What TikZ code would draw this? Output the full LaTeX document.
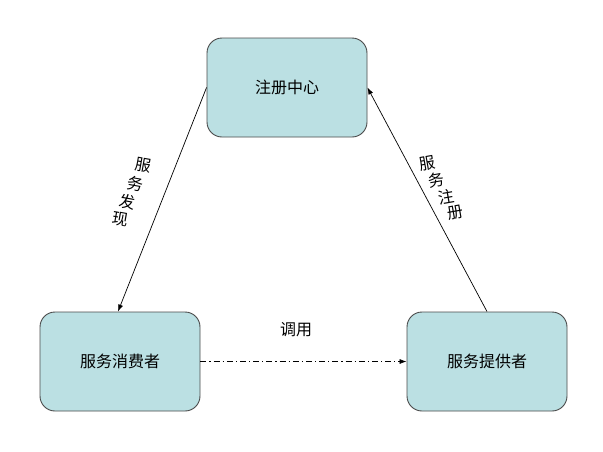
\documentclass[tikz,border=0pt]{standalone}
\usepackage{fontspec}
\newfontfamily\cjk{Noto Sans CJK SC}
\usetikzlibrary{arrows.meta}
\definecolor{boxfill}{HTML}{BBE0E3}
\definecolor{boxline}{HTML}{4A4A4A}
\begin{document}
\begin{tikzpicture}[x=1pt,y=-1pt,
  box/.style={draw=boxline,fill=boxfill,rounded corners=15pt,minimum width=160pt,minimum height=99pt,inner sep=0pt,line width=0.9pt,font=\cjk\fontsize{16}{18}\selectfont},
  lbl/.style={font=\cjk\fontsize{16}{18}\selectfont,inner sep=0pt},
  conn/.style={line width=0.7pt,-{Latex[length=7pt,width=5pt]}}]
\useasboundingbox (0,0) rectangle (603,451);
\node[box] (reg) at (287,87.5) {注册中心};
\node[box] (cons) at (120,361.5) {服务消费者};
\node[box] (prov) at (487,361.5) {服务提供者};
\draw[conn] (reg.west) -- (cons.north -| 118,0);
\draw[conn] (prov.north) -- (reg.east);
\draw[conn,dash pattern=on 6pt off 3pt on 1.2pt off 3pt] (cons.east) -- (prov.west);
\node[lbl] (t1) at (296,330) {调用};
\node[lbl,rotate=-10] (a1) at (143,165) {服};
\node[lbl,rotate=-10] (a2) at (135,184) {务};
\node[lbl,rotate=-10] (a3) at (127,202) {发};
\node[lbl,rotate=-10] (a4) at (120,219) {现};
\node[lbl,rotate=10] (b1) at (427,163) {服};
\node[lbl,rotate=10] (b2) at (436,180) {务};
\node[lbl,rotate=10] (b3) at (446,197) {注};
\node[lbl,rotate=10] (b4) at (455,213) {册};
\end{tikzpicture}
\end{document}
